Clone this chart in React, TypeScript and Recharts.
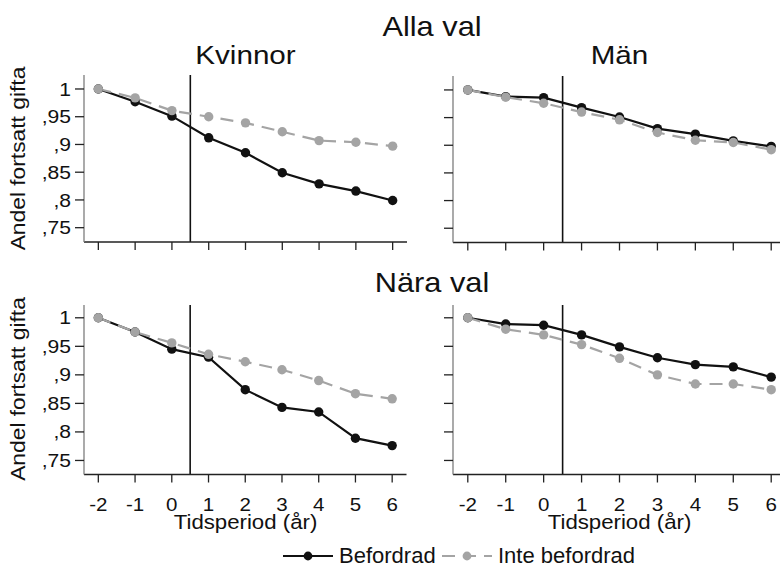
import { LineChart, Line, XAxis, YAxis, ReferenceLine } from 'recharts'

const periods = [-2, -1, 0, 1, 2, 3, 4, 5, 6]
const yTicks = [0.75, 0.8, 0.85, 0.9, 0.95, 1]

// Alla val
const allaKvinnorBefordrad = [1.0, 0.977, 0.951, 0.912, 0.885, 0.849, 0.829, 0.816, 0.799]
const allaKvinnorInte = [1.0, 0.984, 0.961, 0.95, 0.939, 0.923, 0.907, 0.904, 0.897]
const allaManBefordrad = [1.0, 0.988, 0.986, 0.968, 0.951, 0.93, 0.92, 0.908, 0.898]
const allaManInte = [1.0, 0.987, 0.976, 0.96, 0.946, 0.923, 0.909, 0.905, 0.892]

// Nära val
const naraKvinnorBefordrad = [1.0, 0.975, 0.945, 0.931, 0.874, 0.843, 0.835, 0.789, 0.776]
const naraKvinnorInte = [1.0, 0.975, 0.956, 0.936, 0.923, 0.909, 0.89, 0.867, 0.858]
const naraManBefordrad = [1.0, 0.989, 0.987, 0.97, 0.949, 0.93, 0.918, 0.914, 0.896]
const naraManInte = [1.0, 0.98, 0.97, 0.953, 0.929, 0.9, 0.884, 0.884, 0.874]

const FONT = '"Liberation Sans", Arial, sans-serif'
const INK = '#111111'
const GRAY = '#a4a4a4'
const FRAME = '#7d7d7d'
const X_DOMAIN = [-2.39, 6.39]
const AXIS_W = 84
const SX = 1.14 // the source font runs a bit wide

const legendItems = [
  { name: 'Befordrad', color: INK, dash: undefined as string | undefined },
  { name: 'Inte befordrad', color: GRAY, dash: '13 8' },
]

function rows(bef: number[], inte: number[]) {
  return periods.map((p, i) => ({ period: p, befordrad: bef[i], inte: inte[i] }))
}

function formatY(v: number) {
  return v === 1 ? '1' : String(v).replace(/^0\./, ',')
}

// text stretched horizontally around its anchor
function WideText({
  x,
  y,
  size,
  anchor = 'middle',
  rotate = 0,
  dy,
  children,
}: {
  x: number
  y: number
  size: number
  anchor?: 'start' | 'middle' | 'end'
  rotate?: number
  dy?: string
  children: any
}) {
  return (
    <g transform={`translate(${x},${y}) rotate(${rotate})`}>
      <text
        textAnchor={anchor}
        dy={dy}
        fontSize={size}
        fill={INK}
        fontFamily={FONT}
        transform={`scale(${SX},1)`}
      >
        {children}
      </text>
    </g>
  )
}

function YTick(props: any) {
  const { x, y, payload, show } = props
  if (!show) return <g />
  return (
    <WideText x={x} y={y} size={18.5} anchor="end" dy="0.355em">
      {formatY(payload.value)}
    </WideText>
  )
}

function XTick(props: any) {
  const { x, y, payload, show } = props
  if (!show) return <g />
  return (
    <WideText x={x} y={y} size={18} dy="0.71em">
      {payload.value}
    </WideText>
  )
}

function Panel({
  left,
  top,
  plotW,
  plotH,
  data,
  yDomain,
  xLabels,
  yLabels,
}: {
  left: number
  top: number
  plotW: number
  plotH: number
  data: { period: number; befordrad: number; inte: number }[]
  yDomain: number[]
  xLabels: boolean
  yLabels: boolean
}) {
  const xAxisH = xLabels ? 40 : 12
  return (
    <div style={{ position: 'absolute', left: left - AXIS_W, top: top - 2 }}>
      <LineChart
        width={AXIS_W + plotW + 2}
        height={2 + plotH + xAxisH}
        data={data}
        margin={{ top: 2, right: 2, bottom: 0, left: 0 }}
      >
        <XAxis
          xAxisId="b"
          dataKey="period"
          type="number"
          domain={X_DOMAIN}
          ticks={periods}
          allowDataOverflow
          height={xAxisH}
          axisLine={{ stroke: '#222', strokeWidth: 1.3 }}
          tickLine={{ stroke: '#222', strokeWidth: 1.3 }}
          tickSize={8}
          tickMargin={16}
          tick={(p: any) => <XTick {...p} show={xLabels} />}
        />
        <XAxis
          xAxisId="t"
          orientation="top"
          type="number"
          domain={X_DOMAIN}
          allowDataOverflow
          height={0}
          tick={false}
          tickLine={false}
          axisLine={{ stroke: FRAME, strokeWidth: 1.3 }}
        />
        <YAxis
          yAxisId="l"
          type="number"
          domain={yDomain}
          ticks={yTicks}
          allowDataOverflow
          width={AXIS_W}
          axisLine={{ stroke: FRAME, strokeWidth: 1.3 }}
          tickLine={{ stroke: '#222', strokeWidth: 1.3 }}
          tickSize={9}
          tickMargin={4}
          tick={(p: any) => <YTick {...p} show={yLabels} />}
        />
        <YAxis
          yAxisId="r"
          orientation="right"
          type="number"
          domain={yDomain}
          allowDataOverflow
          width={0}
          tick={false}
          tickLine={false}
          axisLine={{ stroke: FRAME, strokeWidth: 1.3 }}
        />
        <ReferenceLine xAxisId="b" yAxisId="l" x={0.5} stroke={INK} strokeWidth={1.6} />
        <Line
          xAxisId="b"
          yAxisId="l"
          dataKey="befordrad"
          stroke={INK}
          strokeWidth={2.2}
          dot={{ r: 4.7, fill: INK, stroke: INK, strokeWidth: 0 }}
          isAnimationActive={false}
        />
        <Line
          xAxisId="b"
          yAxisId="l"
          dataKey="inte"
          stroke={GRAY}
          strokeWidth={2.2}
          strokeDasharray="13 8"
          dot={{ r: 4.7, fill: GRAY, stroke: GRAY, strokeWidth: 0, strokeDasharray: '' }}
          isAnimationActive={false}
        />
      </LineChart>
    </div>
  )
}

export default function App() {
  const topDomain = [0.7242, 1.0252]
  const bottomDomain = [0.7254, 1.0224]
  return (
    <div
      style={{
        position: 'absolute',
        left: 0,
        top: 0,
        width: 780,
        height: 567,
        overflow: 'hidden',
        background: '#fff',
      }}
    >
      <Panel left={84} top={75} plotW={323} plotH={167} data={rows(allaKvinnorBefordrad, allaKvinnorInte)} yDomain={topDomain} xLabels={false} yLabels />
      <Panel left={453} top={75.5} plotW={333} plotH={166.5} data={rows(allaManBefordrad, allaManInte)} yDomain={topDomain} xLabels={false} yLabels={false} />
      <Panel left={83.5} top={304.5} plotW={322.5} plotH={169.5} data={rows(naraKvinnorBefordrad, naraKvinnorInte)} yDomain={bottomDomain} xLabels yLabels />
      <Panel left={453} top={305} plotW={333} plotH={169.5} data={rows(naraManBefordrad, naraManInte)} yDomain={bottomDomain} xLabels yLabels={false} />

      <svg width={780} height={567} style={{ position: 'absolute', left: 0, top: 0, pointerEvents: 'none' }}>
        <WideText x={432} y={36} size={27}>Alla val</WideText>
        <WideText x={245.5} y={63.5} size={26}>Kvinnor</WideText>
        <WideText x={619.5} y={63.5} size={26}>Män</WideText>
        <WideText x={432} y={292} size={27}>Nära val</WideText>

        <WideText x={25} y={158.5} size={20} rotate={-90}>Andel fortsatt gifta</WideText>
        <WideText x={25} y={389} size={20} rotate={-90}>Andel fortsatt gifta</WideText>

        <WideText x={245.5} y={528.7} size={19.5}>Tidsperiod (år)</WideText>
        <WideText x={619.5} y={528.7} size={19.5}>Tidsperiod (år)</WideText>

        {legendItems.map((it, i) => {
          const x0 = i === 0 ? 283 : 442
          return (
            <g key={it.name}>
              <line x1={x0} x2={x0 + 50} y1={556} y2={556} stroke={it.color} strokeWidth={2.2} strokeDasharray={it.dash} />
              <circle cx={x0 + 25} cy={556} r={4.4} fill={it.color} />
              <text x={x0 + 56} y={563} fontSize={22} fontFamily={FONT} fill={INK}>
                {it.name}
              </text>
            </g>
          )
        })}
      </svg>
    </div>
  )
}
